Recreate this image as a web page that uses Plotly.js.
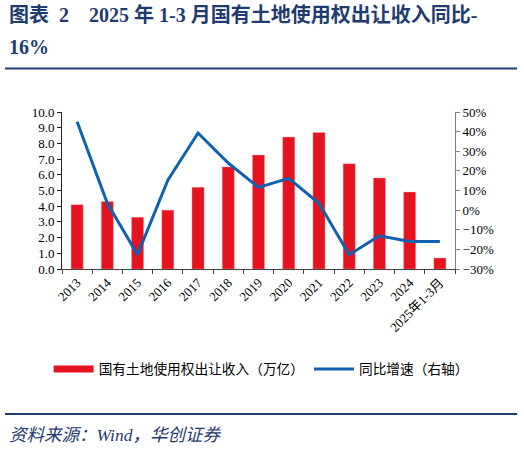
<!DOCTYPE html>
<html><head><meta charset="utf-8">
<script src="https://cdn.plot.ly/plotly-3.0.1.min.js"></script>
<style>html,body{margin:0;padding:0;background:#fff}</style>
</head><body><div id="chart" style="width:524px;height:450px"></div>
<script>
const categories = ['2013','2014','2015','2016','2017','2018','2019','2020','2021','2022','2023','2024','2025年1-3月'];
const revenue = [4.1, 4.3, 3.3, 3.75, 5.2, 6.5, 7.26, 8.4, 8.7, 6.7, 5.8, 4.9, 0.7];
const growth = [45, 3.5, -22.7, 15.3, 39.3, 24, 11.6, 16.2, 3.5, -22.7, -13.1, -16, -16];
const barName = '国有土地使用权出让收入（万亿）';
const lineName = '同比增速（右轴）';
const titleLine1 = '图表  2    2025 年 1-3 月国有土地使用权出让收入同比-';
const titleLine2 = '16%';
const sourceText = '资料来源：Wind，华创证券';

const navy = '#1F3C70';
const serif = 'Liberation Serif, Times New Roman, Noto Sans CJK SC, serif';
const cjk = 'Noto Sans CJK SC, sans-serif';

const traces = [
  {type:'bar', x:categories, y:revenue, name:barName, showlegend:false,
   marker:{color:'#E5131F', line:{color:'rgba(255,160,160,0.7)', width:0.6}}, yaxis:'y'},
  {type:'scatter', mode:'lines', x:categories, y:revenue.map(()=>null), name:barName,
   line:{color:'#E5131F', width:7}, yaxis:'y', hoverinfo:'skip'},
  {type:'scatter', mode:'lines', x:categories, y:growth, name:lineName,
   line:{color:'#0F62B1', width:3}, yaxis:'y2'}
];

const layout = {
  width:524, height:450,
  margin:{l:62, r:69, t:112, b:181, pad:0},
  paper_bgcolor:'#fff', plot_bgcolor:'#fff',
  bargap:0.6,
  showlegend:true,
  legend:{orientation:'h', x:-0.034, xanchor:'left', y:-0.637, yanchor:'middle',
          font:{family:cjk, size:13.7, color:'#000'}, itemwidth:40, traceorder:'normal',
          bgcolor:'rgba(0,0,0,0)'},
  xaxis:{type:'category', showline:true, linecolor:'#404040', linewidth:1,
         ticks:'outside', tickson:'boundaries', ticklen:4, tickcolor:'#404040',
         tickangle:-45, tickfont:{family:serif, size:13, color:'#000'},
         showgrid:false, zeroline:false, fixedrange:true},
  yaxis:{range:[0,10], dtick:1, tickformat:'.1f', showline:true, linecolor:'#202020',
         ticks:'outside', ticklen:4, tickcolor:'#202020', showgrid:false, zeroline:false,
         tickfont:{family:serif, size:13, color:'#000'}},
  yaxis2:{range:[-30,50], dtick:10, ticksuffix:'%', overlaying:'y', side:'right',
          showline:true, linecolor:'#808080', ticks:'outside', ticklen:4, tickcolor:'#808080',
          showgrid:false, zeroline:false, tickfont:{family:serif, size:13, color:'#000'}},
  shapes:[
    {type:'line', xref:'paper', yref:'paper', x0:-0.145, x1:1.158, y0:1.277, y1:1.277,
     line:{color:navy, width:2}},
    {type:'line', xref:'paper', yref:'paper', x0:-0.145, x1:1.158, y0:-0.924, y1:-0.924,
     line:{color:navy, width:2}}
  ],
  annotations:[
    {xref:'paper', yref:'paper', x:-0.14, y:1.618, xanchor:'left', yanchor:'middle',
     text:'<b>'+titleLine1+'</b>', showarrow:false,
     font:{family:serif, size:20, color:navy}},
    {xref:'paper', yref:'paper', x:-0.14, y:1.414, xanchor:'left', yanchor:'middle',
     text:'<b>'+titleLine2+'</b>', showarrow:false,
     font:{family:serif, size:20, color:navy}},
    {xref:'paper', yref:'paper', x:-0.14, y:-1.057, xanchor:'left', yanchor:'middle',
     text:'<i>'+sourceText+'</i>', showarrow:false,
     font:{family:serif, size:17.5, color:navy}}
  ]
};

Plotly.newPlot('chart', traces, layout, {displayModeBar:false, staticPlot:true});
</script></body></html>
